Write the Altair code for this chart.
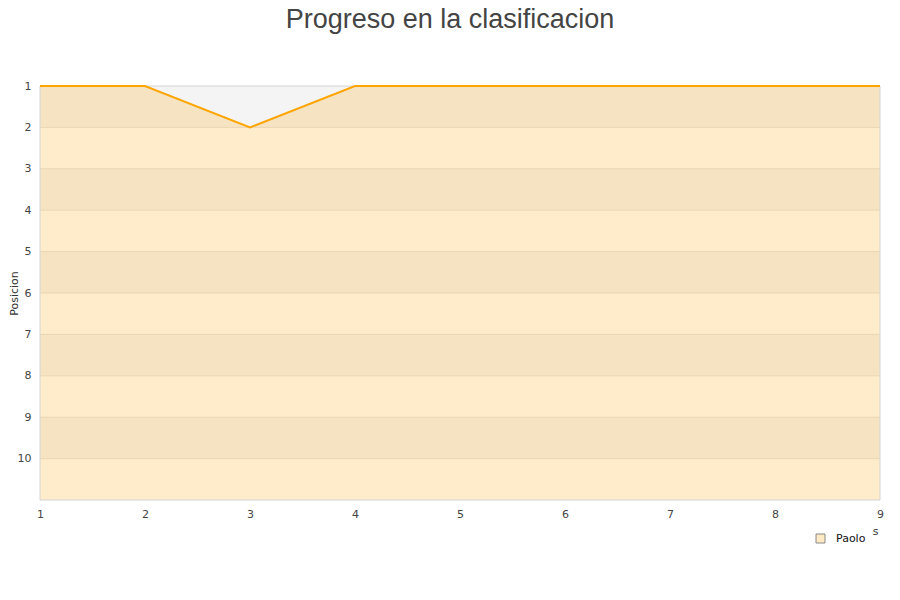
import altair as alt
import pandas as pd

# data
jornadas = [1, 2, 3, 4, 5, 6, 7, 8, 9]
posiciones = [1, 1, 2, 1, 1, 1, 1, 1, 1]
jugador = "Paolo"
band_starts = [1, 2, 3, 4, 5, 6, 7, 8, 9, 10]
band_colors = ["#f6e3c2", "#feecca"] * 5
grid_values = [2, 3, 4, 5, 6, 7, 8, 9, 10]
y_ticks = [1, 2, 3, 4, 5, 6, 7, 8, 9, 10]

df = pd.DataFrame({"Jornada": jornadas, "Posicion": posiciones, "top": [1] * len(jornadas), "serie": [jugador] * len(jornadas)})
bands = pd.DataFrame({"y0": band_starts, "y1": [b + 1 for b in band_starts], "c": band_colors})
grid = pd.DataFrame({"g": grid_values})

xs = alt.Scale(domain=[1, 9], nice=False, zero=False)
ys = alt.Scale(domain=[1, 11], reverse=True, nice=False, zero=False)

xaxis = alt.Axis(values=jornadas, format="d", ticks=False, domain=False, grid=False, labelPadding=8,
                 labelFlush=False,
                 labelFontSize=11, labelColor="#444", title="Jornadas", titleFontSize=11,
                 titleFontWeight="normal", titleColor="#333", titleAnchor="end", titleAlign="right",
                 titleX=838, titleY=25, titleBaseline="top", labelFont="DejaVu Sans", titleFont="DejaVu Sans")
yaxis = alt.Axis(values=y_ticks, format="d", ticks=False, domain=False, grid=False, labelPadding=9,
                 labelFlush=False,
                 labelFontSize=11, labelColor="#444", title="Posicion", titleFontSize=11,
                 titleFontWeight="normal", titleColor="#333", titleX=-26, titleY=207,
                 titleAngle=270, titleBaseline="middle", titleAlign="center",
                 labelFont="DejaVu Sans", titleFont="DejaVu Sans")

base = alt.Chart(df)

band_layer = alt.Chart(bands).mark_rect().encode(
    x=alt.datum(1, scale=xs, axis=xaxis), x2=alt.datum(9),
    y=alt.Y("y0:Q", scale=ys, axis=yaxis), y2="y1:Q",
    fill=alt.Fill("c:N", scale=None),
)

grid_layer = alt.Chart(grid).mark_rule(color="#ead5b0", strokeWidth=1).encode(
    y=alt.Y("g:Q", scale=ys)
)

area_layer = base.mark_area(color="#f4f4f4", opacity=1).encode(
    x=alt.X("Jornada:Q", scale=xs), y=alt.Y("Posicion:Q", scale=ys), y2="top:Q"
)

border_h = alt.Chart(pd.DataFrame({"b": [1, 11]})).mark_rule(color="#d4d4d4", strokeWidth=1).encode(
    y=alt.Y("b:Q", scale=ys)
)
border_v = alt.Chart(pd.DataFrame({"b": [1, 9]})).mark_rule(color="#d4d4d4", strokeWidth=1).encode(
    x=alt.X("b:Q", scale=xs)
)

line_layer = base.mark_line(color="#ffa500", strokeWidth=2).encode(
    x=alt.X("Jornada:Q", scale=xs), y=alt.Y("Posicion:Q", scale=ys)
)

legend_layer = base.mark_point(size=0, filled=True, opacity=0).encode(
    x=alt.X("Jornada:Q", scale=xs), y=alt.Y("Posicion:Q", scale=ys),
    fill=alt.Fill("serie:N", scale=alt.Scale(domain=[jugador], range=["#fde9c3"]),
                  legend=alt.Legend(title=None, orient="none", legendX=769, legendY=441,
                                    symbolType="square", symbolSize=81, symbolOpacity=1,
                                    symbolStrokeColor="#888", symbolStrokeWidth=1,
                                    labelFontSize=11, labelColor="#111", labelFont="DejaVu Sans",
                                    labelOffset=10, padding=6, fillColor="white")),
)

chart = alt.layer(band_layer, grid_layer, area_layer, border_h, border_v, line_layer, legend_layer).properties(
    width=840, height=414,
    padding={"left": 32, "top": 78, "right": 12, "bottom": 92},
    autosize=alt.AutoSizeParams(type="none"),
    title=alt.Title("Progreso en la clasificacion", fontSize=27, font="Liberation Sans",
                    fontWeight="normal", color="#444", anchor="middle", frame="group",
                    baseline="alphabetic", offset=25, dx=-10),
).configure_view(stroke=None)

chart.save("out.html", embed_options={"renderer": "svg", "actions": False})
